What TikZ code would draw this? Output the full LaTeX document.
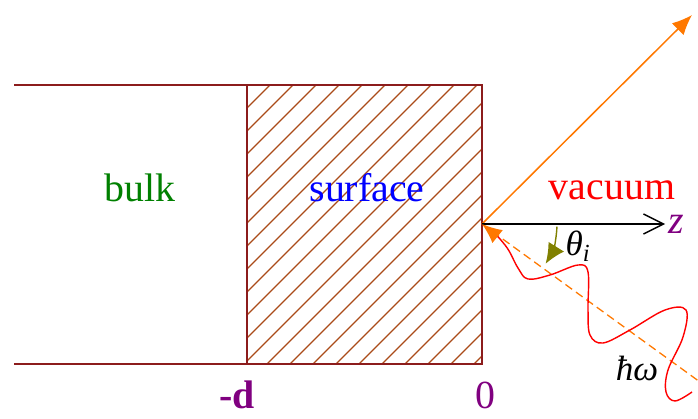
\documentclass[tikz,border=0pt]{standalone}
\usepackage{fontspec}
\setmainfont{Liberation Serif}
\usetikzlibrary{arrows.meta}

\definecolor{wallred}{RGB}{140,28,28}
\definecolor{hatchbrown}{RGB}{170,75,25}
\definecolor{axispurple}{RGB}{128,0,128}
\definecolor{beamorange}{RGB}{255,120,0}
\definecolor{arcolive}{RGB}{128,128,0}
\definecolor{bulkgreen}{RGB}{0,128,0}

\tikzset{
  wall/.style={draw=wallred,line width=1.3pt},
  hatchline/.style={draw=hatchbrown,line width=1.1pt},
  regionlbl/.style={font=\fontsize{34}{40}\selectfont,inner sep=0pt},
  axislbl/.style={text=axispurple,font=\fontsize{34}{40}\selectfont,inner sep=0pt},
  greeklbl/.style={font=\itshape\fontsize{30}{34}\selectfont,inner sep=0pt},
  beam/.style={draw=beamorange,line width=1.3pt}
}

\begin{document}
\begin{tikzpicture}[x=0.03cm,y=0.03cm,>=Latex]
\useasboundingbox (0,0) rectangle (698,418);
\coordinate (O) at (482,194);
\coordinate (R) at (692,403);
\coordinate (D) at (700,36);
\coordinate (Z) at (665,194);

% hatched surface layer
\begin{scope}
\clip (247,54) rectangle (482,333);
\foreach \c in {-109,-86,...,440}
  \draw[hatchline] (\c+40,40) -- (\c+350,350);
\end{scope}
\draw[wall] (14,333) -- (482,333) -- (482,54) -- (14,54);
\draw[wall] (247,333) -- (247,54);

% region labels
\node[regionlbl,text=bulkgreen] (bulk) at (140,230) {bulk};
\node[regionlbl,text=blue] (surf) at (367,230) {surface};
\node[regionlbl,text=red] (vac) at (612,228) {vacuum};
\node[axislbl,font=\bfseries\fontsize{34}{40}\selectfont] (md) at (237,23) {-d};
\node[axislbl] (zero) at (485,23) {0};

% beams
\draw[beam,-{Latex[length=6mm,width=5mm]}] (O) -- (R);
\draw[beam,line width=1.1pt,dash pattern=on 7pt off 4pt] (O) -- (D);
\draw[line width=1.2pt,-{Straight Barb[length=6mm,width=6mm]}] (O) -- (Z);
\node[axislbl,anchor=west] (zl) at ([xshift=3]Z) {\textit{z}};

% incidence angle
\draw[arcolive,line width=1.2pt,-{Latex[length=6mm,width=5.5mm]}]
  ([shift={(-2:75)}]O) arc[start angle=-2,end angle=-32,radius=75];
\node[greeklbl] (th) at (578,172) {θ\textsubscript{i}};

% incoming photon
\draw[red,line width=1.2pt,{Latex[length=6mm,width=5mm,color=beamorange]}-]
  plot[smooth,tension=0.6] coordinates {(O) (505,173) (518,150) (528,139) (550,143)
  (578,153) (588,146) (588,108) (590,83) (603,75) (630,88) (665,108) (686,108)
  (683,81) (668,48) (666,26) (675,17) (692,26)};
\node[greeklbl] (hw) at (637,50) {ħω};
\end{tikzpicture}
\end{document}
